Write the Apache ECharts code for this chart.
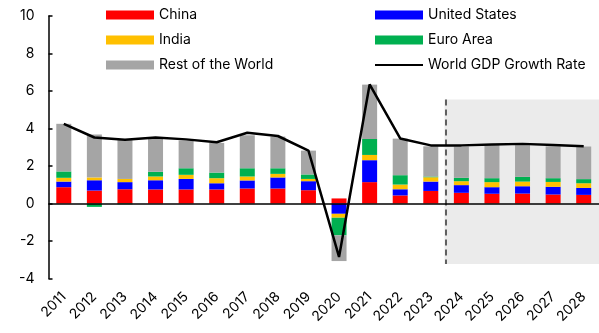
<!DOCTYPE html>
<html>
<head>
<meta charset="utf-8">
<script src="https://cdn.jsdelivr.net/npm/echarts@6/dist/echarts.min.js"></script>
<style>
  html, body { margin: 0; padding: 0; background: #fff; }
  #chart { width: 599px; height: 333px; }
</style>
</head>
<body>
<div id="chart"></div>
<script>
// Contributions to world GDP growth (percentage points), 2011–2028
const years = ['2011','2012','2013','2014','2015','2016','2017','2018','2019',
               '2020','2021','2022','2023','2024','2025','2026','2027','2028'];
const china = [0.87, 0.69, 0.76, 0.75, 0.75, 0.75, 0.80, 0.80, 0.71, 0.27, 1.14, 0.43, 0.67, 0.57, 0.52, 0.53, 0.48, 0.46];
const unitedStates = [0.30, 0.55, 0.38, 0.49, 0.56, 0.33, 0.43, 0.59, 0.48, -0.55, 1.17, 0.33, 0.50, 0.41, 0.35, 0.39, 0.41, 0.37];
const india = [0.20, 0.15, 0.17, 0.20, 0.22, 0.27, 0.21, 0.19, 0.12, -0.21, 0.28, 0.25, 0.23, 0.21, 0.27, 0.25, 0.26, 0.25];
const euroArea = [0.34, -0.18, -0.04, 0.25, 0.35, 0.30, 0.44, 0.30, 0.24, -0.94, 0.85, 0.50, 0.04, 0.18, 0.21, 0.25, 0.20, 0.22];
const restOfWorld = [2.54, 2.29, 2.08, 1.76, 1.48, 1.58, 1.76, 1.69, 1.27, -1.37, 2.90, 1.95, 1.61, 1.67, 1.79, 1.69, 1.70, 1.74];
const worldGrowth = [4.25, 3.52, 3.40, 3.52, 3.42, 3.27, 3.77, 3.60, 2.82, -2.85, 6.35, 3.47, 3.10, 3.10, 3.15, 3.18, 3.12, 3.05];
const yTicks = { min: -4, max: 10, step: 2 };
// forecast window (in category units on the helper axis) and its vertical extent
const forecastStart = 13;
const shadeTop = 5.55, shadeBottom = -3.22;

const FONT = 'Inter';
const chart = echarts.init(document.getElementById('chart'), null, { renderer: 'canvas' });

function barSeries(name, data, color) {
  return {
    name, type: 'bar', stack: 'total', data,
    barWidth: 15,
    itemStyle: { color },
    z: 2
  };
}

const legendCommon = {
  orient: 'vertical', top: 8, padding: 0,
  itemWidth: 48, itemHeight: 9, itemGap: 11,
  textStyle: { fontFamily: FONT, fontSize: 14, color: '#000' }
};

chart.setOption({
  animation: false,
  textStyle: { fontFamily: FONT },
  grid: { left: 48.5, right: 0, top: 16, bottom: 54.5, containLabel: false },
  legend: [
    Object.assign({}, legendCommon, {
      left: 106,
      data: [
        { name: 'China', icon: 'rect' },
        { name: 'India', icon: 'rect' },
        { name: 'Rest of the World', icon: 'rect' }
      ]
    }),
    Object.assign({}, legendCommon, {
      left: 374,
      data: [
        { name: 'United States', icon: 'rect' },
        { name: 'Euro Area', icon: 'rect' },
        { name: 'World GDP Growth Rate', itemStyle: { opacity: 0 } }
      ]
    })
  ],
  xAxis: [
    {
      type: 'category', data: years, position: 'bottom',
      axisLine: { show: false }, axisTick: { show: false },
      axisLabel: { rotate: 45, margin: 16, fontFamily: FONT, fontSize: 14, color: '#000', interval: 0 }
    },
    {
      // helper axis for the forecast shading and dividers
      type: 'value', min: 0, max: years.length, show: false
    }
  ],
  yAxis: {
    type: 'value', min: yTicks.min, max: yTicks.max, interval: yTicks.step,
    axisLine: { show: true, onZero: false, lineStyle: { color: '#000', width: 1.5 } },
    axisTick: { show: true, inside: true, length: 4, lineStyle: { color: '#000', width: 1.5 } },
    axisLabel: { margin: 14, fontFamily: FONT, fontSize: 14, color: '#000' },
    splitLine: { show: false }
  },
  series: [
    barSeries('China', china, '#FF0000'),
    barSeries('United States', unitedStates, '#0000FF'),
    barSeries('India', india, '#FFC000'),
    barSeries('Euro Area', euroArea, '#00B050'),
    barSeries('Rest of the World', restOfWorld, '#A5A5A5'),
    {
      name: 'forecast', type: 'line', xAxisIndex: 1, yAxisIndex: 0,
      data: [], z: 3, silent: true,
      markArea: {
        silent: true,
        itemStyle: { color: 'rgba(128,128,128,0.16)' },
        data: [[{ coord: [forecastStart - 0.05, shadeTop] }, { coord: [years.length, shadeBottom] }]]
      },
      markLine: {
        silent: true, symbol: 'none', label: { show: false },
        data: [
          [
            { coord: [forecastStart, shadeTop], lineStyle: { color: '#333', width: 1.5, type: [6, 4] } },
            { coord: [forecastStart, shadeBottom] }
          ],
          [
            { coord: [0, 0], lineStyle: { color: '#000', width: 1.5, type: 'solid' } },
            { coord: [years.length, 0] }
          ]
        ]
      }
    },
    {
      name: 'World GDP Growth Rate', type: 'line', data: worldGrowth,
      symbol: 'none', z: 5,
      lineStyle: { color: '#000', width: 2.5 },
      itemStyle: { color: '#000' }
    }
  ]
});
</script>
</body>
</html>
